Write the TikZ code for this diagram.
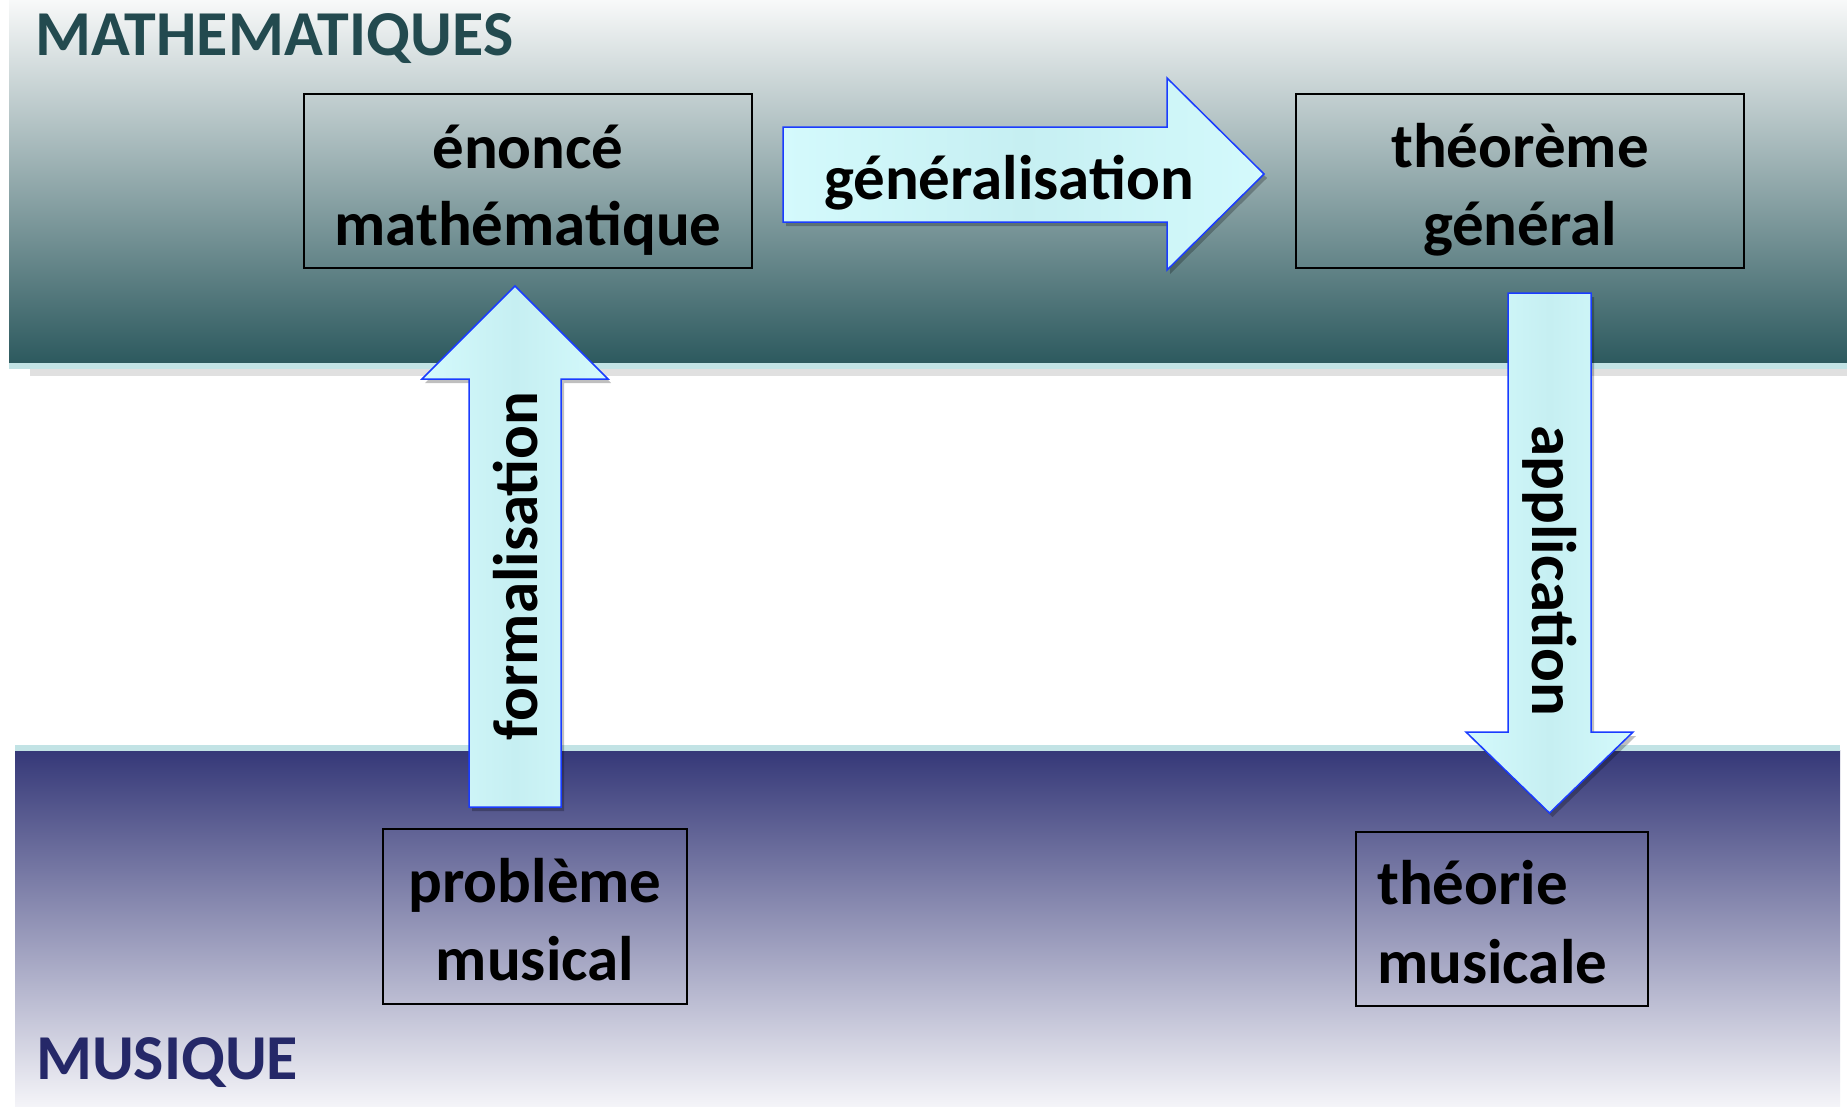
\documentclass[tikz,border=0pt]{standalone}
\usepackage{fontspec}
\setmainfont{Carlito}
\usetikzlibrary{shadows}
\definecolor{tealdark}{HTML}{2C595E}
\definecolor{tealmid}{HTML}{9AAEB0}
\definecolor{tealtop}{HTML}{F8F9F9}
\definecolor{navydark}{HTML}{353878}
\definecolor{navymid}{HTML}{9799BD}
\definecolor{navylight}{HTML}{F4F4F8}
\definecolor{mathtext}{HTML}{234A4F}
\definecolor{mustext}{HTML}{252868}
\definecolor{sepline}{HTML}{C2E3E5}
\definecolor{arrowfill}{HTML}{C6EFF2}
\definecolor{arrowlight}{HTML}{D4FAFC}
\definecolor{arrowblue}{HTML}{1A3CFF}
\tikzset{
  bigfont/.style={font=\bfseries\fontsize{63}{75}\selectfont},
  boxnode/.style={draw=black, line width=1.6pt, inner sep=0pt},
  linetext/.style={bigfont, inner sep=0pt, text=black},
  blockarrow/.style={draw=arrowblue, line width=1.5pt, left color=arrowlight, right color=arrowlight, middle color=arrowfill,
    drop shadow={shadow xshift=3pt, shadow yshift=-4pt, opacity=0.25, fill=black}},
  bandtitle/.style={font=\bfseries\fontsize{64}{76}\selectfont, inner sep=0pt, anchor=base west}
}
\begin{document}
\begin{tikzpicture}[x=1pt,y=-1pt]
\useasboundingbox (0,0) rectangle (1847,1106);
\fill[white] (0,0) rectangle (1847,1106);
% top band
\shade[top color=tealtop, middle color=tealmid, bottom color=tealdark] (9,0) rectangle (1847,364);
\fill[black, opacity=0.12] (30,369) rectangle (1847,376);
\fill[sepline] (9,363) rectangle (1847,369);
% bottom band
\shade[top color=navydark, middle color=navymid, bottom color=navylight] (15,750) rectangle (1840,1106);
\fill[sepline] (15,745) rectangle (1840,751);
% titles
\node[bandtitle, text=mathtext] (mathtitle) at (35,55) {MATHEMATIQUES};
\node[bandtitle, text=mustext] (mustitle) at (36,1079) {MUSIQUE};
% boxes
\node[boxnode, minimum width=448pt, minimum height=174pt] (enonce) at (528,181) {};
\node[boxnode, minimum width=448pt, minimum height=174pt] (theoreme) at (1520,181) {};
\node[boxnode, minimum width=304pt, minimum height=175pt] (probleme) at (535,916.5) {};
\node[boxnode, minimum width=292pt, minimum height=174pt] (theorie) at (1502,919) {};
% box texts
\node[linetext, anchor=base] (t1a) at (528,168) {énoncé};
\node[linetext, anchor=base] (t1b) at (528,245) {mathématique};
\node[linetext, anchor=base] (t2a) at (1520,167) {théorème};
\node[linetext, anchor=base] (t2b) at (1520,245) {général};
\node[linetext, anchor=base] (t3a) at (535,902) {problème};
\node[linetext, anchor=base] (t3b) at (535,980) {musical};
\node[linetext, anchor=base west] (t4a) at (1377,904) {théorie};
\node[linetext, anchor=base west] (t4b) at (1377,983) {musicale};
% block arrows
\path[blockarrow] (783,127) -- (1167,127) -- (1167,78) -- (1264,174) -- (1167,270) -- (1167,222) -- (783,222) -- cycle;
\path[blockarrow] (469,807) -- (469,379) -- (422,379) -- (515,286) -- (608,379) -- (561,379) -- (561,807) -- cycle;
\path[blockarrow] (1508,293) -- (1591,293) -- (1591,732) -- (1633,732) -- (1549.5,813) -- (1466,732) -- (1508,732) -- cycle;
% arrow labels
\node[linetext, anchor=base] (gen) at (1009,199) {généralisation};
\node[linetext, anchor=base, rotate=90] (form) at (537,566) {formalisation};
\node[linetext, anchor=base, rotate=-90] (appl) at (1532,571) {application};
\end{tikzpicture}
\end{document}
